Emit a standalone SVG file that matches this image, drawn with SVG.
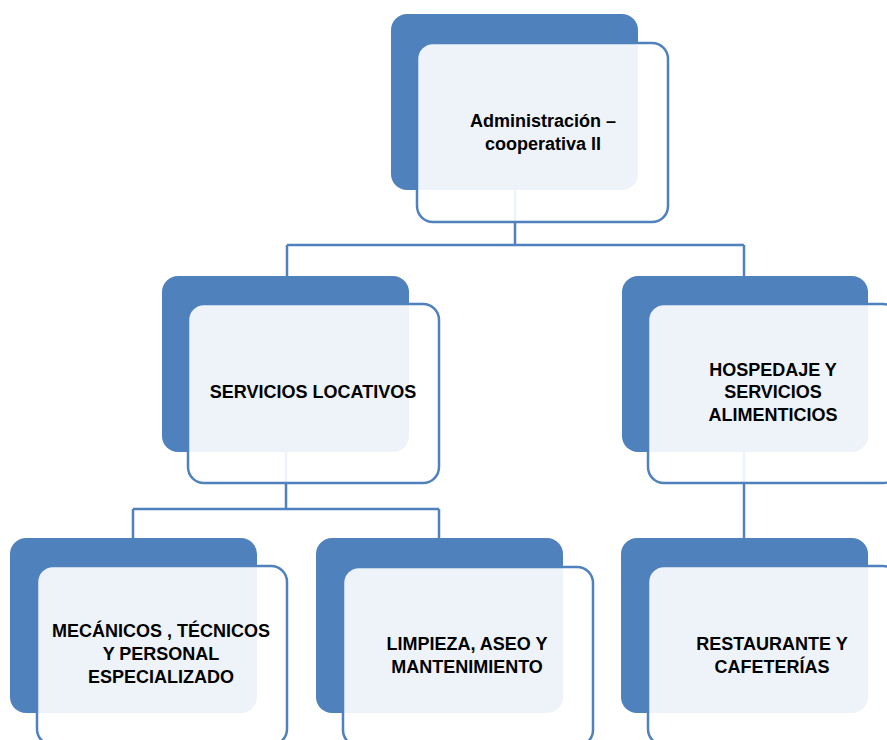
<svg xmlns="http://www.w3.org/2000/svg" width="887" height="740" viewBox="0 0 887 740">
<style>
.back{fill:#4F81BD;}
.front{fill:#FFFFFF;fill-opacity:0.9;stroke:#4F81BD;stroke-width:2.5;}
.conn{fill:none;stroke:#4F81BD;stroke-width:2.5;}
.lbl{font-family:"Liberation Sans",Arial,sans-serif;font-weight:bold;font-size:18px;fill:#000;text-anchor:middle;}
</style>
<rect width="887" height="740" fill="#FFFFFF"/>
<g id="connectors">
<path class="conn" d="M515 190 V245 M287 245 H744 M287 245 V276 M744 245 V276"/>
<path class="conn" d="M286 452 V509 M133 509 H439 M133 509 V538 M439 509 V538"/>
<path class="conn" d="M744 452 V538"/>
</g>
<g id="n-admin">
<rect class="back" x="391" y="14" width="247" height="176" rx="16"/>
<rect class="front" x="417" y="43" width="251" height="179" rx="16"/>
<text class="lbl" x="543" y="127">Administración –</text>
<text class="lbl" x="543" y="150">cooperativa II</text>
</g>
<g id="n-servicios">
<rect class="back" x="162" y="276" width="247" height="176" rx="16"/>
<rect class="front" x="188" y="304" width="251" height="179" rx="16"/>
<text class="lbl" x="313" y="398">SERVICIOS LOCATIVOS</text>
</g>
<g id="n-hospedaje">
<rect class="back" x="622" y="276" width="246" height="176" rx="16"/>
<rect class="front" x="648" y="304" width="251" height="179" rx="16"/>
<text class="lbl" x="773" y="376">HOSPEDAJE Y</text>
<text class="lbl" x="773" y="398">SERVICIOS</text>
<text class="lbl" x="773" y="421">ALIMENTICIOS</text>
</g>
<g id="n-mecanicos">
<rect class="back" x="10" y="538" width="247" height="175" rx="16"/>
<rect class="front" x="37" y="566" width="250" height="179" rx="16"/>
<text class="lbl" x="161" y="637">MECÁNICOS , TÉCNICOS</text>
<text class="lbl" x="161" y="660">Y PERSONAL</text>
<text class="lbl" x="161" y="683">ESPECIALIZADO</text>
</g>
<g id="n-limpieza">
<rect class="back" x="316" y="538" width="247" height="175" rx="16"/>
<rect class="front" x="343" y="567" width="250" height="179" rx="16"/>
<text class="lbl" x="467" y="650">LIMPIEZA, ASEO Y</text>
<text class="lbl" x="467" y="673">MANTENIMIENTO</text>
</g>
<g id="n-restaurante">
<rect class="back" x="621" y="538" width="247" height="175" rx="16"/>
<rect class="front" x="648" y="566" width="251" height="179" rx="16"/>
<text class="lbl" x="772" y="650">RESTAURANTE Y</text>
<text class="lbl" x="772" y="673">CAFETERÍAS</text>
</g>
</svg>
